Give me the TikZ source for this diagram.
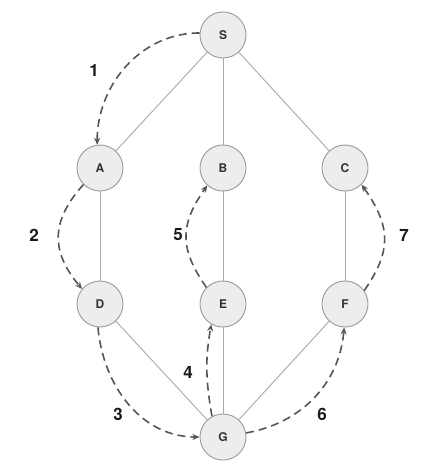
\documentclass[tikz,border=0pt]{standalone}
\usepackage{fontspec}
\setmainfont{TeX Gyre Heros}
\usetikzlibrary{arrows.meta}
\definecolor{nodefill}{HTML}{EDEDED}
\definecolor{nodeline}{HTML}{9A9A9A}
\definecolor{edgeline}{HTML}{A8A8A8}
\definecolor{walk}{HTML}{555555}
\definecolor{numtext}{HTML}{1A1A1A}
\tikzset{
  vert/.style={circle, draw=nodeline, fill=nodefill, line width=0.9pt, minimum size=46pt, inner sep=0pt, font=\fontsize{12}{12}\selectfont\bfseries, text=black!80},
  edge/.style={draw=edgeline, line width=0.9pt},
  walkarrow/.style={draw=walk, line width=1.6pt, dash pattern=on 8pt off 5pt, -{Stealth[length=7pt,width=6pt]}},
  num/.style={font=\fontsize{17}{17}\selectfont\bfseries, text=numtext}
}
\begin{document}
\begin{tikzpicture}[x=1pt,y=-1pt]
\useasboundingbox (0,0) rectangle (426,468);
\node[vert] (S) at (223,35) {S};
\node[vert] (A) at (100,168) {A};
\node[vert] (B) at (223,168) {B};
\node[vert] (C) at (345,168) {C};
\node[vert] (D) at (100,304) {D};
\node[vert] (E) at (223,304) {E};
\node[vert] (F) at (345,304) {F};
\node[vert] (G) at (223,437) {G};
\draw[edge] (S) -- (A);
\draw[edge] (S) -- (B);
\draw[edge] (S) -- (C);
\draw[edge] (A) -- (D);
\draw[edge] (B) -- (E);
\draw[edge] (C) -- (F);
\draw[edge] (D) -- (G);
\draw[edge] (E) -- (G);
\draw[edge] (F) -- (G);
\draw[walkarrow] (S.175) to[out=180,in=90] (A.97);
\draw[walkarrow] (A.225) to[out=228,in=130,looseness=1.2] (D.140);
\draw[walkarrow] (D.265) to[out=275,in=180] (G.180);
\draw[walkarrow] (G.118) to[out=100,in=260] (E.240);
\draw[walkarrow] (E.135) to[out=125,in=235,looseness=1.2] (B.228);
\draw[walkarrow] (G.10) to[out=10,in=265] (F.268);
\draw[walkarrow] (F.35) to[out=55,in=305,looseness=1.2] (C.315);
\node[num] (n1) at (94,70) {1};
\node[num] (n2) at (34,235) {2};
\node[num] (n3) at (118,414) {3};
\node[num] (n4) at (188,372) {4};
\node[num] (n5) at (178,235) {5};
\node[num] (n6) at (322,414) {6};
\node[num] (n7) at (404,235) {7};
\end{tikzpicture}
\end{document}
